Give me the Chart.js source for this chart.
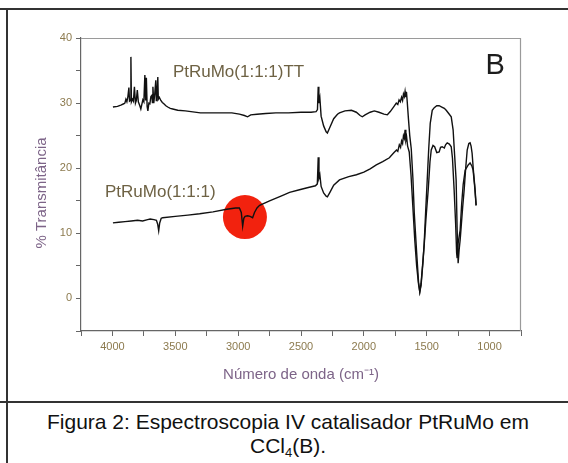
<!DOCTYPE html>
<html>
<head>
<meta charset="utf-8">
<script src="https://cdn.jsdelivr.net/npm/chart.js@4.4.1/dist/chart.umd.min.js"></script>
<style>
  html, body { margin: 0; padding: 0; background: #fff; }
  body { width: 568px; height: 463px; position: relative; overflow: hidden; font-family: "Liberation Sans", Arial, sans-serif; }
  .hline { position: absolute; left: 0; width: 568px; height: 2px; background: #333; }
  .vline { position: absolute; left: 6px; top: 8px; width: 2px; height: 455px; background: #333; }
  #wrap { position: absolute; left: 0; top: 0; width: 568px; height: 400px; }
  .caption { position: absolute; left: 8px; width: 560px; top: 410px; text-align: center; font-size: 21px; line-height: 24px; color: #111; }
  .caption sub { font-size: 13px; vertical-align: -4px; line-height: 0; }
</style>
</head>
<body>
<div class="hline" style="top:8px"></div>
<div class="hline" style="top:401px"></div>
<div class="vline"></div>
<div id="wrap"><canvas id="irChart" width="568" height="400"></canvas></div>
<div class="caption">Figura 2: Espectroscopia IV catalisador PtRuMo em<br>CCl<sub>4</sub>(B).</div>

<script>
// Espectros IV (número de onda em cm-1, % transmitância)
const ttWave = [3996, 3960, 3933, 3910, 3901, 3893, 3885, 3877, 3869, 3864, 3857, 3853, 3849, 3841, 3833, 3825, 3817, 3810, 3802, 3794,
  3782, 3774, 3766, 3758, 3750, 3742, 3736, 3730, 3724, 3718, 3710, 3702, 3694, 3686, 3682, 3678, 3671, 3663, 3655, 3651,
  3647, 3639, 3635, 3627, 3615, 3603, 3591, 3575, 3560, 3540, 3520, 3480, 3420, 3300, 3150, 3050, 2990, 2950, 2925, 2900,
  2850, 2780, 2700, 2600, 2500, 2420, 2380, 2369, 2363, 2358, 2350, 2340, 2320, 2300, 2290, 2270, 2240, 2210, 2194, 2150,
  2099, 2060, 2030, 2012, 1990, 1950, 1917, 1880, 1840, 1813, 1790, 1760, 1742, 1730, 1720, 1710, 1700, 1692, 1685, 1678,
  1672, 1666, 1661, 1655, 1645, 1635, 1623, 1610, 1599, 1580, 1565, 1555, 1545, 1530, 1520, 1508, 1496, 1484, 1472, 1456,
  1440, 1420, 1401, 1380, 1360, 1345, 1325, 1305, 1290, 1278, 1266, 1258, 1250, 1242, 1234, 1226, 1214, 1202, 1190, 1178,
  1165, 1155, 1147, 1139, 1128, 1115, 1107];
const ttTrans = [29.4, 29.5, 29.7, 29.9, 30.0, 30.6, 30.2, 31.0, 32.4, 30.3, 30.4, 37.1, 30.2, 30.6, 30.3, 32.5, 30.0, 30.4, 32.0, 30.2,
  29.6, 29.1, 29.8, 30.5, 30.2, 34.3, 30.4, 33.9, 29.5, 28.8, 30.0, 29.9, 31.0, 31.2, 30.1, 32.5, 30.0, 31.5, 33.5, 30.4,
  30.7, 34.0, 30.6, 30.9, 30.4, 30.1, 29.9, 29.6, 29.4, 29.2, 29.1, 28.9, 28.8, 28.5, 28.5, 28.5, 28.3, 28.1, 27.9, 28.2,
  28.3, 28.4, 28.5, 28.5, 28.6, 28.6, 28.7, 29.0, 32.5, 30.0, 30.8, 28.0, 26.5, 25.6, 25.4, 26.3, 27.6, 28.3, 28.5, 28.8,
  28.9, 28.6, 28.1, 27.9, 28.2, 28.6, 28.8, 28.6, 28.3, 28.2, 28.7, 29.5, 30.0, 29.8, 30.5, 30.2, 30.9, 30.4, 31.4, 31.0,
  31.8, 30.9, 31.7, 30.2, 27.5, 25.0, 23.0, 18.5, 13.1, 7.0, 2.5, 1.0, 2.0, 5.5, 8.5, 13.5, 18.2, 23.0, 26.9, 28.9,
  29.3, 29.6, 29.6, 29.4, 29.2, 28.9, 28.4, 27.9, 25.9, 22.0, 18.2, 10.5, 5.4, 7.5, 9.0, 11.0, 14.0, 16.7, 20.0, 22.8,
  23.8, 23.9, 23.4, 22.3, 19.5, 16.7, 14.3];

const asisWave = [3996, 3950, 3900, 3850, 3800, 3760, 3720, 3700, 3670, 3650, 3640, 3632, 3624, 3612, 3600, 3500, 3400, 3306, 3200, 3091,
  3020, 2990, 2975, 2964, 2955, 2945, 2925, 2905, 2885, 2870, 2850, 2829, 2750, 2650, 2591, 2512, 2450, 2385, 2370, 2363,
  2357, 2350, 2340, 2320, 2300, 2290, 2270, 2240, 2194, 2120, 2059, 2000, 1950, 1901, 1850, 1797, 1760, 1740, 1730, 1718,
  1708, 1700, 1692, 1685, 1678, 1672, 1666, 1660, 1652, 1639, 1625, 1610, 1595, 1580, 1565, 1555, 1545, 1530, 1520, 1505,
  1488, 1474, 1464, 1450, 1437, 1420, 1401, 1390, 1377, 1360, 1350, 1337, 1320, 1305, 1295, 1282, 1270, 1262, 1258, 1250,
  1242, 1234, 1222, 1210, 1194, 1170, 1155, 1140, 1131, 1120, 1107];
const asisTrans = [11.6, 11.7, 11.8, 11.9, 12.0, 11.9, 12.1, 12.2, 12.1, 12.0, 11.4, 10.4, 11.6, 12.3, 12.4, 12.6, 12.8, 13.0, 13.3, 13.7,
  13.9, 13.9, 13.2, 11.1, 12.3, 12.6, 12.7, 12.6, 12.4, 13.2, 13.9, 14.3, 15.0, 15.8, 16.3, 16.7, 17.0, 17.3, 17.6, 21.7,
  18.5, 19.0, 17.2, 16.2, 15.7, 15.6, 16.3, 17.4, 18.2, 18.7, 19.0, 19.4, 19.9, 20.5, 21.0, 21.6, 22.4, 22.8, 22.6, 23.6,
  23.2, 24.2, 23.8, 25.0, 24.6, 25.9, 24.3, 24.8, 23.4, 22.5, 19.0, 14.0, 9.0, 5.0, 2.2, 1.0, 2.3, 5.8, 8.2, 12.5,
  16.7, 21.0, 22.8, 23.5, 23.3, 22.4, 22.5, 23.2, 23.3, 23.1, 23.6, 23.9, 23.7, 23.3, 21.5, 16.7, 11.5, 7.0, 6.2, 8.5,
  9.5, 10.5, 14.5, 17.5, 19.7, 20.5, 20.8, 20.3, 19.7, 17.5, 14.3];

const seriesNames = ['PtRuMo(1:1:1)TT', 'PtRuMo(1:1:1)'];
const xTicks = [4000, 3500, 3000, 2500, 2000, 1500, 1000];
const yTicks = [0, 10, 20, 30, 40];

const FONT = '"Liberation Sans", Arial, sans-serif';

function toPoints(xs, ys) {
  return xs.map(function(x, i) { return {x: x, y: ys[i]}; });
}

// moldura cinza (topo e direita), círculo vermelho, rótulos e título do eixo y
const decorPlugin = {
  id: 'decor',
  beforeDatasetsDraw(chart) {
    const {ctx, chartArea, scales} = chart;
    ctx.save();
    ctx.strokeStyle = '#9a9a9a';
    ctx.lineWidth = 1.2;
    ctx.beginPath();
    ctx.moveTo(chartArea.left, chartArea.top + 0.5);
    ctx.lineTo(chartArea.right - 0.5, chartArea.top + 0.5);
    ctx.lineTo(chartArea.right - 0.5, chartArea.bottom);
    ctx.stroke();
    // destaque vermelho na banda C-H
    ctx.fillStyle = '#f2220e';
    ctx.beginPath();
    ctx.arc(scales.x.getPixelForValue(2946), scales.y.getPixelForValue(12.5), 22, 0, Math.PI * 2);
    ctx.fill();
    ctx.restore();
  },
  afterDatasetsDraw(chart) {
    const {ctx, scales} = chart;
    ctx.save();
    ctx.textBaseline = 'middle';
    ctx.textAlign = 'left';
    ctx.fillStyle = '#6e6244';
    ctx.font = '17px ' + FONT;
    ctx.fillText(seriesNames[0], scales.x.getPixelForValue(3519), scales.y.getPixelForValue(34.8));
    ctx.fillText(seriesNames[1], scales.x.getPixelForValue(4059), scales.y.getPixelForValue(16.3));
    ctx.fillStyle = '#1c1c1c';
    ctx.font = '29px ' + FONT;
    ctx.textAlign = 'center';
    ctx.fillText('B', scales.x.getPixelForValue(955), scales.y.getPixelForValue(35.7));
    // título do eixo y, um pouco abaixo do centro como no original
    ctx.translate(42, scales.y.getPixelForValue(16.2));
    ctx.rotate(-Math.PI / 2);
    ctx.fillStyle = '#7d6488';
    ctx.font = '15px ' + FONT;
    ctx.fillText('% Transmitância', 0, 0);
    ctx.restore();
  }
};

const ctx = document.getElementById('irChart').getContext('2d');
new Chart(ctx, {
  type: 'line',
  data: {
    datasets: [{
      label: seriesNames[0],
      data: toPoints(ttWave, ttTrans),
      borderColor: '#111',
      borderWidth: 1.4,
      pointRadius: 0,
      tension: 0
    }, {
      label: seriesNames[1],
      data: toPoints(asisWave, asisTrans),
      borderColor: '#111',
      borderWidth: 1.4,
      pointRadius: 0,
      tension: 0
    }]
  },
  options: {
    responsive: false,
    animation: false,
    layout: { padding: { left: 0, top: 38, right: 47, bottom: 0 } },
    plugins: { legend: { display: false }, tooltip: { enabled: false } },
    scales: {
      x: {
        type: 'linear',
        reverse: true,
        min: 750,
        max: 4250,
        afterFit: function(scale) { scale.height = 69; },
        ticks: {
          stepSize: 250,
          autoSkip: false,
          maxRotation: 0,
          padding: 4,
          color: '#8c7a4e',
          font: { family: FONT, size: 11 },
          callback: function(v) { return xTicks.includes(v) ? String(v) : ''; }
        },
        grid: { drawOnChartArea: false, drawTicks: true, tickLength: 5, tickColor: '#666' },
        border: { display: true, color: '#666', width: 1.2 },
        title: {
          display: true,
          text: 'Número de onda (cm⁻¹)',
          color: '#7d6488',
          font: { family: FONT, size: 15 },
          padding: { top: 0, bottom: 16 }
        }
      },
      y: {
        type: 'linear',
        min: -5,
        max: 40,
        afterFit: function(scale) { scale.width = 81; },
        ticks: {
          stepSize: 5,
          autoSkip: false,
          padding: 4,
          color: '#8c7a4e',
          font: { family: FONT, size: 11 },
          callback: function(v) { return yTicks.includes(v) ? String(v) : ''; }
        },
        grid: { drawOnChartArea: false, drawTicks: true, tickLength: 5, tickColor: '#666' },
        border: { display: true, color: '#666', width: 1.2 }
      }
    }
  },
  plugins: [decorPlugin]
});
</script>
</body>
</html>
